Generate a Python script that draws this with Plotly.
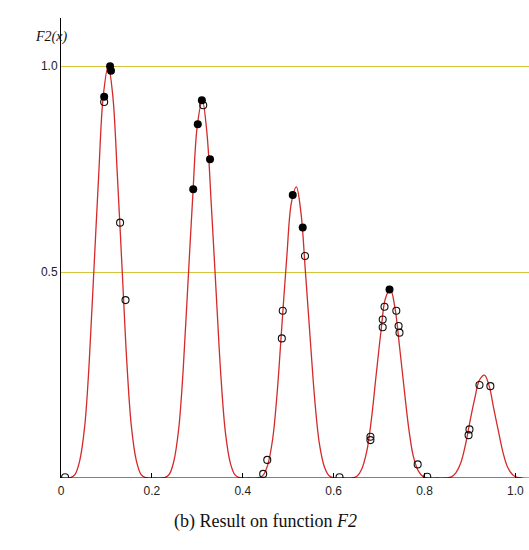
import plotly.graph_objects as go

# Red curve F2(x) (axis units)
curve_x = [
    0.000, 0.021, 0.031, 0.041, 0.052, 0.062, 0.072, 0.083, 0.093, 0.104, 0.114, 0.124, 0.135, 0.145, 0.155, 0.166, 0.176, 0.186,
    0.207, 0.228, 0.238, 0.248, 0.259, 0.269, 0.279, 0.290, 0.300, 0.311, 0.321, 0.331, 0.342, 0.352, 0.362, 0.373, 0.383, 0.393,
    0.414, 0.435, 0.445, 0.455, 0.466, 0.476, 0.486, 0.497, 0.507, 0.518, 0.528, 0.538, 0.549, 0.559, 0.569, 0.580, 0.590, 0.600,
    0.621, 0.642, 0.652, 0.662, 0.673, 0.683, 0.693, 0.704, 0.714, 0.725, 0.735, 0.745, 0.756, 0.766, 0.776, 0.787, 0.797, 0.807,
    0.828, 0.849, 0.859, 0.869, 0.880, 0.890, 0.900, 0.911, 0.921, 0.932, 0.942, 0.952, 0.963, 0.973, 0.983, 0.994, 1.004, 1.014,
    1.035,
]
curve_y = [
    0.0, 0.001, 0.009, 0.041, 0.124, 0.279, 0.496, 0.736, 0.928, 1.0, 0.928, 0.736, 0.496, 0.279, 0.124, 0.041, 0.009, 0.001,
    0.0, 0.001, 0.0085, 0.039, 0.119, 0.265, 0.465, 0.685, 0.856, 0.917, 0.840, 0.659, 0.440, 0.246, 0.109, 0.035, 0.0075, 0.001,
    0.0, 0.0007, 0.007, 0.032, 0.096, 0.211, 0.368, 0.538, 0.668, 0.707, 0.645, 0.500, 0.330, 0.183, 0.081, 0.026, 0.0055, 0.0005,
    0.0, 0.0005, 0.005, 0.022, 0.065, 0.141, 0.244, 0.354, 0.436, 0.458, 0.413, 0.320, 0.209, 0.115, 0.050, 0.016, 0.0033, 0.0003,
    0.0, 0.0003, 0.0028, 0.0127, 0.037, 0.080, 0.137, 0.195, 0.238, 0.250, 0.225, 0.171, 0.112, 0.061, 0.026, 0.008, 0.0017, 0.0002,
    0.0,
]

# Filled black points
filled_x = [0.108, 0.110, 0.095, 0.310, 0.301, 0.328, 0.291, 0.510, 0.532, 0.723]
filled_y = [1.000, 0.989, 0.926, 0.917, 0.859, 0.774, 0.701, 0.687, 0.608, 0.458]

# Open circles
open_x = [0.009, 0.095, 0.130, 0.142, 0.313,
          0.537, 0.488, 0.486, 0.454, 0.445,
          0.613, 0.712, 0.708, 0.708, 0.738, 0.743, 0.745, 0.681, 0.681, 0.785, 0.806,
          0.921, 0.945, 0.899, 0.897]
open_y = [0.002, 0.913, 0.620, 0.432, 0.905,
          0.539, 0.406, 0.339, 0.044, 0.010,
          0.002, 0.416, 0.385, 0.366, 0.406, 0.369, 0.353, 0.100, 0.092, 0.033, 0.003,
          0.226, 0.223, 0.118, 0.104]

x_tick_vals = [0, 0.2, 0.4, 0.6, 0.8, 1.0]
x_tick_text = ["0", "0.2", "0.4", "0.6", "0.8", "1.0"]
y_tick_vals = [0.5, 1.0]
y_tick_text = ["0.5", "1.0"]

fig = go.Figure()
fig.add_trace(go.Scatter(x=curve_x, y=curve_y, mode="lines",
                         line=dict(color="#d42a2a", width=1.3, shape="spline", smoothing=1.0),
                         hoverinfo="skip", showlegend=False))
fig.add_trace(go.Scatter(x=open_x, y=open_y, mode="markers",
                         marker=dict(symbol="circle-open", size=7, color="#111111", line=dict(width=1.1)),
                         showlegend=False))
fig.add_trace(go.Scatter(x=filled_x, y=filled_y, mode="markers",
                         marker=dict(symbol="circle", size=8, color="#000000"),
                         showlegend=False))

fig.add_shape(type="line", xref="x", yref="y", x0=0, x1=1.015, y0=0, y1=0,
              line=dict(color="#000000", width=1), layer="above")

fig.update_layout(
    width=529, height=550,
    margin=dict(l=61, r=0, t=18, b=72),
    paper_bgcolor="white", plot_bgcolor="white",
    font=dict(family="Liberation Sans, Arial, sans-serif", size=11, color="#222222"),
    showlegend=False,
    xaxis=dict(range=[0, 1.03], tickvals=x_tick_vals, ticktext=x_tick_text,
               showgrid=False, zeroline=False, showline=False, automargin=False,
               ticks="inside", ticklen=5, tickcolor="#000000", tickwidth=1,
               ticklabelstandoff=4,
               tickfont=dict(size=12, color="#222222")),
    yaxis=dict(range=[0, 1.117], tickvals=y_tick_vals, ticktext=y_tick_text,
               showgrid=True, gridcolor="#d6c43c", gridwidth=1.3, automargin=False,
               zeroline=False, showline=True, linecolor="#000000", linewidth=1,
               ticks="", tickfont=dict(size=12, color="#222222")),
    annotations=[
        dict(text="<i>F2(x)</i>", xref="paper", yref="paper", x=-0.06, y=0.98,
             showarrow=False, font=dict(family="Liberation Serif, Times New Roman, serif", size=14, color="#111111")),
        dict(text="(b) Result on function <i>F2</i>", xref="paper", yref="paper", x=0.438, y=-0.122,
             showarrow=False, font=dict(family="Liberation Serif, Times New Roman, serif", size=18, color="#111111")),
    ],
)

fig.write_html("out.html", config={"displayModeBar": False},
               post_script="document.body.style.margin='0';document.body.style.overflow='hidden';")
